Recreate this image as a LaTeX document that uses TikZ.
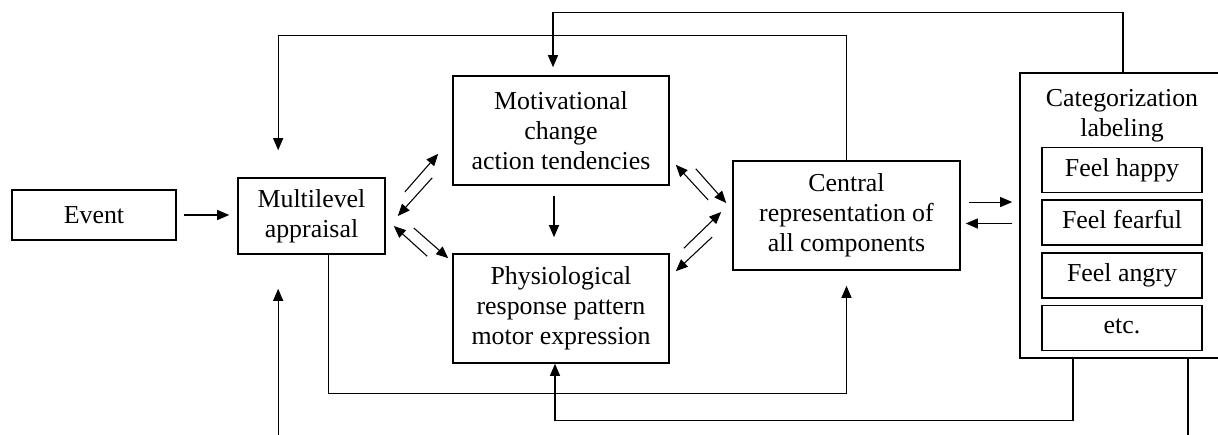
\documentclass[tikz,border=0pt]{standalone}
\usepackage{fontspec}
\setmainfont{Liberation Serif}
\usetikzlibrary{arrows.meta,calc,positioning}

\tikzset{
  txt/.style={inner sep=0pt, align=center, font=\fontsize{19.4}{22.5}\selectfont},
  box/.style={txt, draw, line width=1.2pt},
  feelbox/.style={box, minimum width=120pt, minimum height=33.75pt, text height=13.5pt, text depth=4.5pt},
  wire/.style={line width=0.8pt},
  link/.style={wire, -{Triangle[length=9pt,width=7.5pt]}},
}

\begin{document}
\begin{tikzpicture}[x=0.75pt,y=0.75pt,yscale=-1,xscale=1]
\useasboundingbox (0,0) rectangle (1218,435);
\clip (0,0) rectangle (1218,435);

% boxes
\node[box, minimum width=123pt, minimum height=37.5pt] (event) at (94,215) {Event};
\node[box, minimum width=110.25pt, minimum height=57pt] (appraisal) at (311.5,216) {Multilevel\\appraisal};
\node[box, minimum width=162pt, minimum height=81.75pt] (motiv) at (561,130.5) {Motivational\\change\\action tendencies};
\node[box, minimum width=162pt, minimum height=81.75pt] (physio) at (561,308.5) {Physiological\\response pattern\\motor expression};
\node[box, minimum width=170.25pt, minimum height=81.75pt] (central) at (846.5,215.5) {Central\\representation of\\all components};

% categorization box, partly outside the frame
\node[box, minimum width=154.5pt, minimum height=213.75pt] (categ) at (1123,215.5) {};
\node[txt] (cattitle) at (1122,116) {Categorization\\labeling};
\node[feelbox] (happy) at (1122,170) {Feel happy};
\node[feelbox, below=4.5pt of happy] (fearful) {Feel fearful};
\node[feelbox, below=4.5pt of fearful] (angry) {Feel angry};
\node[feelbox, below=4.5pt of angry] (etc) {etc.};

% straight arrows
\draw[link, shorten <=5.25pt, shorten >=6pt] (event.east) -- (event.east -| appraisal.west);
\draw[link, shorten <=7.5pt, shorten >=12pt] ([xshift=-5.25pt]motiv.south) -- ([xshift=-5.25pt]physio.north);
\draw[link, shorten <=6pt, shorten >=5.25pt] ([yshift=-10.1pt]central.east) -- ([yshift=-10.1pt]categ.west);
\draw[link, shorten <=5.25pt, shorten >=3.75pt] ([yshift=6pt]categ.west) -- ([yshift=6pt]central.east);

% paired diagonal arrows
\draw[link] ($(appraisal.east)+(19,-24)$) -- ($(motiv.south west)+(-14,-32)$);
\draw[link] ($(motiv.south west)+(-20,-8)$) -- ($(appraisal.east)+(12,0)$);
\draw[link] ($(physio.north west)+(-25,3)$) -- ($(appraisal.east)+(8,10)$);
\draw[link] ($(appraisal.east)+(28,12)$) -- ($(physio.north west)+(-4,5)$);
\draw[link] ($(central.west)+(-24,-15.5)$) -- ($(motiv.south east)+(6,-21)$);
\draw[link] ($(motiv.south east)+(26,-17)$) -- ($(central.west)+(-6,-12.5)$);
\draw[link] ($(physio.north east)+(14,-5)$) -- ($(central.west)+(-11,-3.5)$);
\draw[link] ($(central.west)+(-20,21.5)$) -- ($(physio.north east)+(6,18)$);

% feedback loops
\draw[link, shorten >=6pt] (categ.north) -- ++(0,-60) -| ([xshift=-6pt]motiv.north);
\draw[link, shorten >=20.25pt] (central.north) -- ++(0,-125) -| ([xshift=-25pt]appraisal.north);
\draw[link, shorten >=11.25pt] ([xshift=12.4pt]appraisal.south) -- ++(0,139) -| (central.south);
\draw[link] ([xshift=-37.5pt]categ.south) -- ++(0,62) -| ([xshift=-4.5pt]physio.south);
\draw[link, shorten >=25.5pt] ([xshift=48.75pt]categ.south) -- ++(0,100) -| ([xshift=-25pt]appraisal.south);
\end{tikzpicture}
\end{document}
